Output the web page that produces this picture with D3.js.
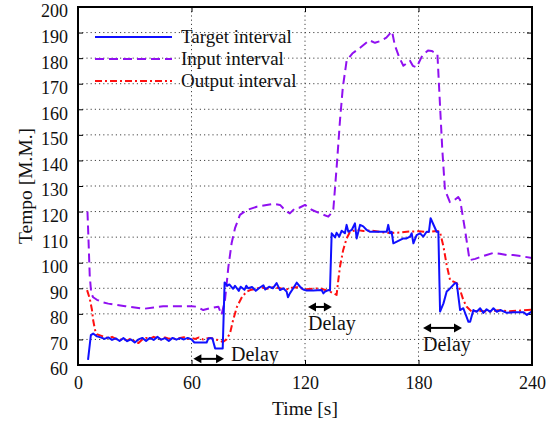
<!DOCTYPE html>
<html><head><meta charset="utf-8">
<script src="https://cdn.jsdelivr.net/npm/d3@7"></script>
<style>body{margin:0;background:#fff}svg{display:block}</style>
</head><body>
<svg id="c" width="547" height="426"></svg>
<script>
// ---- data ----
const xTicks = [0, 60, 120, 180, 240];
const yTicks = [60, 70, 80, 90, 100, 110, 120, 130, 140, 150, 160, 170, 180, 190, 200];
const seriesNames = ["Target interval", "Input interval", "Output interval"];

const targetTime = [5.3,6.8,8,10,12,14,16,18,20,22,24,26,28,30,32,34,36,38,40,42,44,46,48,50,52,54,56,58,60,61.5,64,66,68,69,71,72.5,76.5,77.5,79,80,82,83,85,86,88,89,90,92,94,96,98,99,101,103,105,106.8,108.5,110.3,111,112,113.8,115.6,117.4,119.1,120.9,124.4,128.8,129.7,130.6,132.3,133.2,134.1,135.9,136.7,138.1,139.4,141.1,142,142.9,144.7,146.4,147.3,149.1,150.8,152.6,154.4,159.6,163.2,164,164.9,165.8,166.7,172,173.7,175.5,176.4,177.3,179,180.8,182.5,184.3,185.5,186.4,189.6,190.5,191.4,193.2,194.9,195.8,199.3,200.2,202,203.7,206.4,207.3,209,210.8,212.6,214.3,216,217.9,219.6,221.4,223.2,226.7,230.2,233.7,235.5,237.3,240];
const targetValue = [62,71.7,72.3,71.2,70.8,70.2,70.8,69.8,70.4,69.4,70.5,69.3,70,68.8,70,70.6,69.4,70.6,69.8,71,69.9,70.5,69.4,70.6,69.9,70.5,70,70.6,70,68.8,68.8,68.8,68.8,70.5,70.5,66.5,66.5,92.3,91,91.5,89.8,91,89,90.6,89.4,91,90,90.5,89,90.2,91.2,89.5,90.6,90,92,89.3,90,88.7,86.5,88,90,92.2,90.6,89.5,89.1,89.1,89.3,88,88.7,89.3,89.1,111.5,109.9,111.7,110.2,112.5,111.5,114.8,112.1,112.8,115.4,109.5,114.8,114.2,112.8,112.1,112.1,112.1,114.8,111.5,112.1,107.6,109.5,109.5,110.2,111.5,107.6,110.8,111.5,110.2,112.1,112.1,117.4,112.1,112.1,80.9,84.1,88.7,89.3,92,92,81.5,82.2,76.9,76.9,81.5,80.8,82.2,80.4,81.8,80.8,82.2,80.8,81.5,80.4,80.6,80.6,80.6,79.6,81,80.6];

const inputTime = [5,5.5,6.2,7,8,10,13,16,20,25,30,35,40,45,50,55,60,62.7,66.2,69.8,74.2,75.9,77.7,79.5,81.2,83,85.6,89.2,94.5,99.7,103,106.8,108.5,110.3,112,114.7,117,120,123.5,128,132.3,134,135,137,138.5,140,142,145,149,154,157,160,163,166,167.5,170,172,175.5,177,179,182,185,187,190,191.5,192.6,194,196.6,199,201,202,204.6,207,210,212.5,216,219.5,223,226.7,230,235,240];
const inputValue = [120,110,95,88,86.5,85.5,84.5,84,83.5,83,82.5,82,82.5,83,83,83,83,82.8,81.5,82.2,82.8,79.6,85.4,98.4,107.6,113.5,118.7,120.6,121.9,122.6,123,122.6,121.3,120,119.3,121.3,121.5,122.6,120.7,119.3,118,119.5,121,140,155.7,168.6,179,181.8,184,187,186,186.7,188,190.5,185,180,177,179,177,176.4,181,183,182.8,181.6,159.7,144,128.4,123.7,124.5,125.7,124.5,112.8,101,101.5,102.2,103,103.8,103.5,103,103,102.5,101.8];

const outputTime = [4.8,6.2,7.4,8,9,10,12,14,16,18,20,22,24,26,28,30,32,34,36,38,40,42,44,46,48,50,52,54,56,58,60,62,64,66,68,70,72,74,76.6,78.5,80.4,82,84,86.7,89,91,94,97,100,103,106.8,110,113,116,120,124,128,133.2,136.7,137.6,138.5,140.2,142,143.8,147.3,151,155,160,165,170,175,180,185,189.6,191.3,193.2,194.9,196.7,200.2,202,203.7,205.5,208.1,212,217,222,228,234,240];
const outputValue = [89.3,86,81.5,77.6,73.7,72,71.5,71,70.5,71,70.2,69.8,70.3,69.5,70.4,69.2,68.6,70,70.6,70.2,71,70.4,70,70.8,70.3,70.5,70,70.6,70.9,70.2,70.5,70.2,70.8,70,70.4,70.6,70,69.8,69,70,72.5,77.6,82.7,86.6,88.6,89.3,89.8,90.3,89.8,90.4,90,89.5,90.2,90.4,89.6,89.8,90,88.7,87.4,93.2,98.5,105,109.5,112.1,112.8,112.4,112.6,112,111.6,111.8,112.2,112.3,112,112.4,112.2,106.3,99.1,93.2,92,89.3,85.4,82.8,80.9,81.2,80.8,81.4,81,81.3,81.6,81.2];

const delayStart = [61, 121.6, 182.4];
const delayEnd = [77.2, 134.2, 203];
const delayLevel = [62.4, 82.7, 74.5];
const delayLabel = ["Delay", "Delay", "Delay"];

// ---- chart ----
const svg = d3.select("#c");
const L = 78, R = 532, T = 7, B = 365;
const x = d3.scaleLinear().domain([0, 240]).range([L, R]);
const y = d3.scaleLinear().domain([60, 200]).range([B, T]);
const font = "'Liberation Serif', 'Times New Roman', serif";
const colors = ["#1010ff", "#9010f0", "#ff1010"];
const dashes = [null, "9,5", "7,3,2,3"];

svg.append("clipPath").attr("id", "clip").append("rect")
  .attr("x", L).attr("y", T).attr("width", R - L).attr("height", B - T);

// grid
const grid = svg.append("g").attr("stroke", "#444").attr("stroke-width", 1).attr("stroke-dasharray", "1.2,3");
grid.selectAll(".gy").data(yTicks.slice(1, -1)).join("line")
  .attr("x1", L).attr("x2", R).attr("y1", d => y(d)).attr("y2", d => y(d));
grid.selectAll(".gx").data(xTicks.slice(1, -1)).join("line")
  .attr("y1", T).attr("y2", B).attr("x1", d => x(d)).attr("x2", d => x(d));

// axes
function styleAxis(g) {
  g.select(".domain").remove();
  g.selectAll("line").attr("stroke", "#000").attr("stroke-width", 1);
  g.selectAll("text").attr("font-family", font).attr("font-size", 18).attr("fill", "#111");
}
svg.append("g").attr("transform", `translate(0,${B})`)
  .call(d3.axisBottom(x).tickValues(xTicks).tickSizeInner(-5).tickSizeOuter(0).tickPadding(11))
  .call(styleAxis);
svg.append("g").attr("transform", `translate(${L},0)`)
  .call(d3.axisLeft(y).tickValues(yTicks).tickSizeInner(-5).tickSizeOuter(0).tickPadding(10))
  .call(styleAxis)
  .call(g => g.selectAll("text").attr("dy", "0.55em"));
svg.append("g").attr("transform", `translate(0,${T})`)
  .call(d3.axisTop(x).tickValues(xTicks).tickSizeInner(-5).tickSizeOuter(0).tickFormat(""))
  .call(styleAxis);
svg.append("g").attr("transform", `translate(${R},0)`)
  .call(d3.axisRight(y).tickValues(yTicks).tickSizeInner(-5).tickSizeOuter(0).tickFormat(""))
  .call(styleAxis);

// series
const seriesData = [
  d3.zip(targetTime, targetValue),
  d3.zip(inputTime, inputValue),
  d3.zip(outputTime, outputValue)
];
const line = d3.line().x(d => x(d[0])).y(d => y(d[1]));
const plot = svg.append("g").attr("clip-path", "url(#clip)");
[1, 2, 0].forEach(i => {
  plot.append("path").datum(seriesData[i]).attr("d", line)
    .attr("fill", "none").attr("stroke", colors[i]).attr("stroke-width", 2)
    .attr("stroke-linejoin", "round")
    .attr("stroke-dasharray", dashes[i]);
});

// frame
svg.append("rect").attr("x", L).attr("y", T).attr("width", R - L).attr("height", B - T)
  .attr("fill", "none").attr("stroke", "#000").attr("stroke-width", 2);

// legend
const legY = [37, 59, 81];
const leg = svg.append("g");
seriesNames.forEach((n, i) => {
  leg.append("line").attr("x1", 95).attr("x2", 172).attr("y1", legY[i]).attr("y2", legY[i])
    .attr("stroke", colors[i]).attr("stroke-width", 2).attr("stroke-dasharray", dashes[i]);
  leg.append("text").attr("x", 181).attr("y", legY[i]).attr("dy", "0.32em")
    .attr("font-family", font).attr("font-size", 19).attr("fill", "#111").text(n);
});

// delay annotations
const ann = svg.append("g");
delayStart.forEach((s, i) => {
  const x0 = x(s), x1 = x(delayEnd[i]), yy = y(delayLevel[i]);
  ann.append("line").attr("x1", x0 + 6).attr("x2", x1 - 6).attr("y1", yy).attr("y2", yy)
    .attr("stroke", "#000").attr("stroke-width", 2);
  ann.append("path").attr("d", `M${x0},${yy}L${x0 + 8},${yy - 4.5}L${x0 + 8},${yy + 4.5}Z`).attr("fill", "#000");
  ann.append("path").attr("d", `M${x1},${yy}L${x1 - 8},${yy - 4.5}L${x1 - 8},${yy + 4.5}Z`).attr("fill", "#000");
  const t = ann.append("text").attr("font-family", font).attr("font-size", 20).attr("fill", "#111").text(delayLabel[i]);
  if (i === 0) t.attr("x", x1 + 7).attr("y", yy + 2);
  else t.attr("x", x0).attr("y", yy + 23);
});

// axis titles
svg.append("text").attr("x", (L + R) / 2).attr("y", 415).attr("text-anchor", "middle")
  .attr("font-family", font).attr("font-size", 19.5).attr("fill", "#111").text("Time [s]");
svg.append("text").attr("transform", `translate(32,${(T + B) / 2}) rotate(-90)`).attr("text-anchor", "middle")
  .attr("font-family", font).attr("font-size", 19.5).attr("fill", "#111").text("Tempo [M.M.]");
</script>
</body></html>
